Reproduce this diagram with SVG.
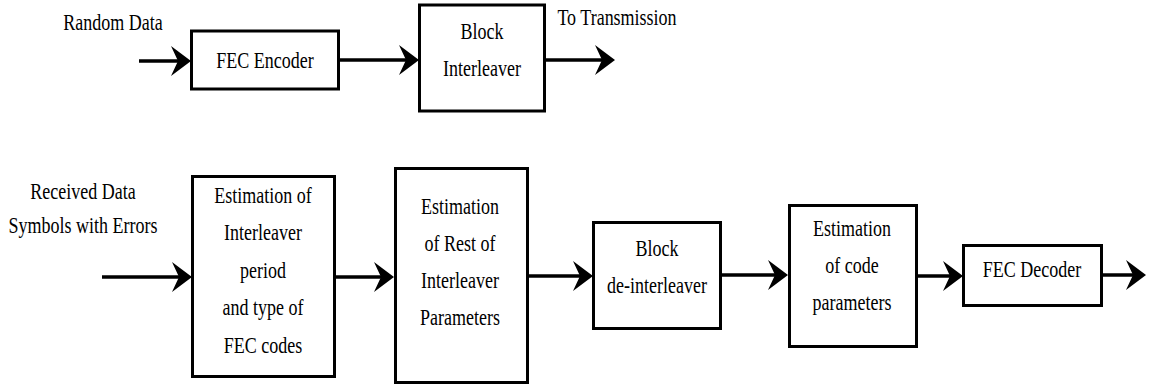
<svg xmlns="http://www.w3.org/2000/svg" width="1152" height="387" viewBox="0 0 1152 387">
  <style>
    .box { fill: #ffffff; stroke: #000000; stroke-width: 3; }
    .wire { fill: none; stroke: #000000; stroke-width: 3.5; marker-end: url(#arrow); }
    .lbl { font-family: 'Liberation Serif', 'Times New Roman', Times, serif; font-size: 24px; fill: #000000; text-anchor: middle; }
  </style>
  <defs>
    <marker id="arrow" markerUnits="userSpaceOnUse" viewBox="-13 -16 22 32" markerWidth="22" markerHeight="32" refX="0" refY="0" orient="auto" overflow="visible">
      <path d="M8,0 L-12,-15 L-5,0 L-12,15 Z" fill="#000000"/>
    </marker>
  </defs>
  <rect width="1152" height="387" fill="#ffffff"/>

  <g id="connectors">
    <line class="wire" x1="139" y1="61" x2="183" y2="61"/>
    <line class="wire" x1="340" y1="60" x2="411" y2="60"/>
    <line class="wire" x1="545" y1="60" x2="607" y2="60"/>
    <line class="wire" x1="102" y1="277" x2="184" y2="277"/>
    <line class="wire" x1="335" y1="277" x2="386" y2="277"/>
    <line class="wire" x1="528" y1="276" x2="585" y2="276"/>
    <line class="wire" x1="721" y1="275" x2="780" y2="275"/>
    <line class="wire" x1="917" y1="276" x2="955" y2="276"/>
    <line class="wire" x1="1102" y1="275" x2="1138" y2="275"/>
  </g>

  <g id="labels">
    <text class="lbl" transform="translate(113,30) scale(0.75,1)">Random Data</text>
    <text class="lbl" transform="translate(617,25) scale(0.75,1)">To Transmission</text>
    <text class="lbl" transform="translate(83,199) scale(0.75,1)"><tspan x="0" y="0">Received Data</tspan><tspan x="0" y="34">Symbols with Errors</tspan></text>
  </g>

  <g id="fec-encoder">
    <rect class="box" x="191.5" y="31" width="147" height="58"/>
    <text class="lbl" transform="translate(265,68) scale(0.75,1)">FEC Encoder</text>
  </g>

  <g id="block-interleaver">
    <rect class="box" x="419.5" y="5" width="125" height="106"/>
    <text class="lbl" transform="translate(482,39) scale(0.75,1)"><tspan x="0" y="0">Block</tspan><tspan x="0" y="37">Interleaver</tspan></text>
  </g>

  <g id="est-interleaver-period">
    <rect class="box" x="192.5" y="176.5" width="142" height="200"/>
    <text class="lbl" transform="translate(263,203) scale(0.75,1)"><tspan x="0" y="0">Estimation of</tspan><tspan x="0" y="37.5">Interleaver</tspan><tspan x="0" y="75">period</tspan><tspan x="0" y="112.5">and type of</tspan><tspan x="0" y="150">FEC codes</tspan></text>
  </g>

  <g id="est-rest-interleaver">
    <rect class="box" x="395.5" y="168.5" width="132" height="214"/>
    <text class="lbl" transform="translate(460,214) scale(0.75,1)"><tspan x="0" y="0">Estimation</tspan><tspan x="0" y="37">of Rest of</tspan><tspan x="0" y="74">Interleaver</tspan><tspan x="0" y="111">Parameters</tspan></text>
  </g>

  <g id="block-deinterleaver">
    <rect class="box" x="593.5" y="222.5" width="127" height="106"/>
    <text class="lbl" transform="translate(657,256) scale(0.75,1)"><tspan x="0" y="0">Block</tspan><tspan x="0" y="37">de-interleaver</tspan></text>
  </g>

  <g id="est-code-params">
    <rect class="box" x="789.5" y="205.5" width="127" height="141"/>
    <text class="lbl" transform="translate(852,236) scale(0.75,1)"><tspan x="0" y="0">Estimation</tspan><tspan x="0" y="37">of code</tspan><tspan x="0" y="74">parameters</tspan></text>
  </g>

  <g id="fec-decoder">
    <rect class="box" x="963.5" y="245.5" width="138" height="60"/>
    <text class="lbl" transform="translate(1032,277) scale(0.75,1)">FEC Decoder</text>
  </g>
</svg>
